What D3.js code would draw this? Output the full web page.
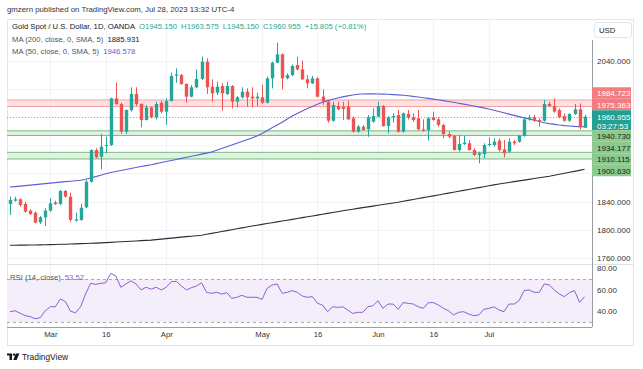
<!DOCTYPE html>
<html><head><meta charset="utf-8">
<script src="https://cdn.jsdelivr.net/npm/d3@7"></script>
<style>body{margin:0;background:#fff;}svg{display:block;font-family:"Liberation Sans",Arial,sans-serif;}</style>
</head><body><svg id="c" width="643" height="369"></svg>
<script>
const dates = ["2023-02-17","2023-02-20","2023-02-21","2023-02-22","2023-02-23","2023-02-24","2023-02-27","2023-02-28",
"2023-03-01","2023-03-02","2023-03-03","2023-03-06","2023-03-07","2023-03-08","2023-03-09","2023-03-10","2023-03-13","2023-03-14","2023-03-15","2023-03-16","2023-03-17","2023-03-20","2023-03-21","2023-03-22","2023-03-23","2023-03-24","2023-03-27","2023-03-28","2023-03-29","2023-03-30","2023-03-31",
"2023-04-03","2023-04-04","2023-04-05","2023-04-06","2023-04-10","2023-04-11","2023-04-12","2023-04-13","2023-04-14","2023-04-17","2023-04-18","2023-04-19","2023-04-20","2023-04-21","2023-04-24","2023-04-25","2023-04-26","2023-04-27","2023-04-28",
"2023-05-01","2023-05-02","2023-05-03","2023-05-04","2023-05-05","2023-05-08","2023-05-09","2023-05-10","2023-05-11","2023-05-12","2023-05-15","2023-05-16","2023-05-17","2023-05-18","2023-05-19","2023-05-22","2023-05-23","2023-05-24","2023-05-25","2023-05-26","2023-05-29","2023-05-30","2023-05-31",
"2023-06-01","2023-06-02","2023-06-05","2023-06-06","2023-06-07","2023-06-08","2023-06-09","2023-06-12","2023-06-13","2023-06-14","2023-06-15","2023-06-16","2023-06-19","2023-06-20","2023-06-21","2023-06-22","2023-06-23","2023-06-26","2023-06-27","2023-06-28","2023-06-29","2023-06-30",
"2023-07-03","2023-07-04","2023-07-05","2023-07-06","2023-07-07","2023-07-10","2023-07-11","2023-07-12","2023-07-13","2023-07-14","2023-07-17","2023-07-18","2023-07-19","2023-07-20","2023-07-21","2023-07-24","2023-07-25","2023-07-26","2023-07-27","2023-07-28"];

const opens = [1836.5,1841.2,1843.1,1836.5,1827.0,1824.1,1810.3,1817.5,1827.0,1838.8,1836.5,1855.0,1846.9,1812.7,1813.7,1831.7,1868.3,1913.4,1903.9,1919.1,1920.6,1987.1,1979.0,1939.6,1970.4,1993.3,1979.0,1956.2,1974.2,1960.0,1980.9,
1968.1,1983.3,2019.4,2020.3,2007.5,1989.5,2002.8,2014.6,2039.3,2003.7,1995.1,2004.6,1993.3,2004.6,1982.3,1988.5,1996.6,1989.5,1987.1,
1988.5,1980.9,2015.6,2037.9,2049.8,2015.6,2020.3,2034.6,2028.4,2014.2,2008.5,2015.6,1989.5,1982.3,1955.2,1976.1,1975.2,1975.2,1958.6,1939.6,1946.7,1942.9,1953.8,
1961.0,1976.1,1947.6,1960.0,1963.3,1939.6,1964.7,1960.0,1958.6,1942.9,1941.9,1960.0,1957.1,1949.1,1936.2,1933.4,1913.4,1922.0,1923.0,1913.4,1906.3,1907.7,
1920.6,1920.6,1926.7,1914.4,1911.1,1925.3,1925.3,1933.4,1957.1,1960.0,1956.2,1955.2,1979.0,1976.1,1970.4,1961.9,1955.2,1964.7,1971.4,1945.15];
const highs = [1846.9,1846.9,1844.5,1839.8,1828.9,1825.5,1819.4,1830.3,1844.5,1841.2,1856.4,1856.4,1852.6,1824.1,1836.5,1870.7,1914.4,1915.8,1936.2,1932.4,1988.0,2009.4,1980.9,1971.4,2002.8,2002.8,1979.9,1977.6,1975.2,1982.3,1983.7,
1987.1,2023.7,2029.8,2021.8,2008.5,2006.1,2028.4,2046.5,2044.0,2014.2,2010.8,2008.5,2010.8,2006.1,1990.4,2002.8,2001.3,2002.8,1995.1,
2006.1,2018.0,2039.3,2066.4,2051.2,2022.7,2035.5,2046.5,2040.8,2020.3,2018.9,2017.0,1999.9,1983.7,1982.3,1982.3,1982.3,1983.7,1961.0,1949.1,1949.1,1963.3,1972.8,
1982.3,1977.6,1961.9,1965.7,1970.4,1966.6,1970.4,1965.7,1970.4,1957.1,1960.0,1968.1,1960.0,1950.5,1939.6,1934.8,1934.8,1933.4,1927.7,1915.8,1911.1,1923.0,
1931.5,1930.1,1930.1,1927.7,1930.1,1927.7,1934.8,1960.0,1963.3,1963.3,1958.6,1984.7,1982.3,1987.1,1972.8,1965.7,1965.7,1979.0,1979.9,1963.575];
const lows = [1820.8,1839.8,1832.6,1824.1,1820.8,1808.9,1808.0,1805.1,1825.5,1835.0,1835.0,1846.0,1811.3,1811.3,1812.7,1830.3,1866.9,1901.6,1885.9,1908.7,1919.1,1977.6,1936.2,1936.2,1968.1,1976.1,1945.7,1955.5,1958.6,1957.1,1965.7,
1949.1,1982.3,2009.4,2006.1,1980.9,1988.5,2001.3,2013.2,1993.3,1982.3,1991.8,1969.5,1991.8,1972.8,1974.2,1987.1,1975.2,1974.2,1976.1,
1979.0,1979.9,2001.3,2037.0,1999.9,2014.2,2018.9,2026.5,2013.2,2001.3,2007.5,1988.5,1977.6,1952.4,1953.8,1970.4,1956.2,1956.2,1938.1,1938.1,1941.0,1932.4,1952.4,
1960.0,1946.7,1937.2,1952.4,1938.1,1938.1,1957.1,1953.8,1941.0,1939.6,1926.7,1955.2,1946.7,1930.1,1930.1,1912.5,1911.1,1920.6,1912.5,1904.9,1894.4,1901.6,
1919.1,1918.2,1911.1,1903.0,1909.6,1920.6,1923.9,1932.4,1955.2,1953.8,1946.7,1953.8,1975.2,1966.6,1958.6,1953.8,1953.8,1963.3,1942.9,1945.15];
const closes = [1842.2,1843.1,1835.0,1825.5,1822.2,1809.9,1817.5,1827.0,1837.4,1836.5,1855.0,1846.9,1813.7,1814.6,1831.2,1868.3,1913.4,1903.0,1918.2,1920.6,1987.1,1979.0,1939.6,1970.4,1993.3,1979.0,1956.2,1974.2,1960.0,1979.0,1968.1,
1983.3,2018.9,2021.3,2007.5,1989.5,2002.8,2014.6,2039.3,2002.8,1994.2,2003.7,1994.2,2004.6,1982.3,1988.5,1996.6,1988.5,1987.1,1989.5,
1980.9,2015.6,2037.9,2049.8,2015.6,2020.3,2033.2,2028.4,2014.2,2008.5,2015.6,1989.5,1982.3,1955.2,1977.6,1971.4,1972.0,1957.1,1939.6,1946.7,1941.9,1960.0,1961.9,
1976.1,1947.6,1960.0,1961.9,1939.6,1965.7,1960.0,1956.2,1942.9,1941.0,1958.6,1956.2,1949.1,1936.2,1932.4,1913.4,1922.0,1923.9,1913.4,1906.3,1908.7,1920.6,
1922.0,1925.3,1913.4,1908.7,1925.3,1923.0,1933.4,1957.1,1960.0,1955.2,1955.2,1979.0,1976.1,1968.1,1960.0,1955.2,1964.7,1971.4,1945.7,1960.955];

const ma200 = [1777.6,1777.7,1777.8,1777.9,1778.0,1778.1,1778.2,1778.3,1778.5,
1778.7,1779.0,1779.2,1779.5,1779.7,1780.0,1780.2,1780.5,1780.7,1781.0,
1781.4,1781.8,1782.2,1782.6,1783.0,1783.4,1783.8,1784.2,1784.6,1785.0,
1785.7,1786.4,1787.1,1787.8,1788.5,1789.2,1789.9,1790.6,1791.3,1792.0,
1793.3,1794.6,1795.9,1797.2,1798.5,1799.8,1801.1,1802.4,1803.7,1805.0,
1806.2,1807.4,1808.6,1809.8,1811.0,1812.2,1813.4,1814.6,1815.8,1817.0,
1818.2,1819.4,1820.6,1821.9,1823.1,1824.3,1825.5,1826.8,1828.0,
1829.1,1830.2,1831.3,1832.4,1833.5,1834.6,1835.7,1836.8,1837.9,1839.0,
1840.3,1841.6,1842.9,1844.2,1845.5,1846.8,1848.1,1849.4,1850.7,1852.0,
1853.3,1854.6,1855.9,1857.2,1858.5,1859.8,1861.1,1862.4,1863.7,1865.0,
1866.1,1867.2,1868.3,1869.4,1870.5,1871.6,1872.7,1873.8,1874.9,1876.0,
1877.4,1878.8,1880.2,1881.6,1883.0,1884.4,1885.931];

const ma50 = [1860.7,1861.3,1862.0,1862.7,1863.4,1864.1,1864.8,1865.5,1866.2,1866.9,1867.6,1868.3,1869.0,1869.7,1870.4,
1871.8,1873.6,1875.5,1877.5,1879.5,1881.3,
1882.8,1884.2,1885.6,1887.0,1888.4,1889.8,1891.2,1892.5,
1894.0,1895.5,1897.0,1898.5,1900.0,1901.5,1903.0,1904.5,1906.0,1907.5,1909.0,1910.6,
1913.0,1915.5,1918.0,1920.5,1923.0,1925.5,1928.0,1930.5,1933.5,1937.0,
1941.0,1945.0,1949.0,1953.0,1957.5,1962.0,
1965.5,1969.0,1972.5,1975.5,1978.5,1981.5,
1983.8,1985.8,1987.6,1989.2,1990.6,1991.8,1992.8,
1993.2,1993.4,1993.4,1993.3,1993.1,1992.8,1992.4,1992.0,1991.4,1990.8,
1989.9,1989.0,1988.0,1987.0,1986.0,1985.0,
1983.8,1982.6,1981.4,1980.1,1978.8,1977.5,1976.2,1974.9,1973.5,
1971.8,1970.0,1968.2,1966.4,1964.6,1962.8,1961.0,1959.2,
1957.5,1955.8,1954.0,1952.2,
1951.0,1950.0,1949.0,1948.2,1947.6,1947.1,1946.8,1946.578];

const rsi = [39.5,40.5,38.2,36.0,35.0,33.0,34.0,40.5,44.2,44.2,51.4,49.0,40.0,38.6,44.2,56.0,66.0,65.0,66.0,66.5,75.3,72.8,62.3,65.4,68.4,65.4,59.8,62.3,60.5,62.3,59.8,
62.3,67.5,67.8,63.5,59.8,62.0,63.5,66.5,57.6,56.7,57.6,56.0,57.3,52.0,53.0,54.8,53.0,53.0,53.0,
51.0,61.3,64.4,65.4,56.7,57.6,59.2,57.6,54.2,53.0,53.6,47.4,45.8,39.6,44.2,43.6,44.2,41.2,38.0,39.0,39.0,44.2,45.1,
49.8,42.7,46.7,46.7,41.8,48.0,47.4,46.7,44.2,42.7,48.0,48.0,45.8,42.7,40.5,36.5,39.0,39.6,37.4,35.9,36.5,41.8,
42.7,44.2,41.2,39.6,46.7,46.7,49.8,59.2,59.8,57.6,57.6,65.4,64.4,59.8,56.0,53.6,57.3,59.2,48.3,53.52];

const priceTicks = [1760,1800,1840,1880,1920,1960,2000,2040];
const rsiTicks = [40,60,80];
const dateTicks = ["2023-03-01","2023-03-16","2023-04-03","2023-05-01","2023-05-16","2023-06-01","2023-06-16","2023-07-03"];
const dateTickLabels = ["Mar","16","Apr","May","16","Jun","16","Jul"];
const redZone = [1975.363, 1984.723];
const greenZones = [[1934.177, 1940.730], [1900.630, 1910.115]];
const greenLevels = [1940.730, 1934.177, 1910.115, 1900.630];
const lastPrice = 1960.955;
const countdown = "03:27:53";
const titleParts = ["Gold Spot / U.S. Dollar, 1D, OANDA", "O1945.150", "H1963.575", "L1945.150", "C1960.955", "+15.805 (+0.81%)"];
const maLabels = [["MA (200, close, 0, SMA, 5)", "1885.931"], ["MA (50, close, 0, SMA, 5)", "1946.578"]];

// ---------- drawing ----------
(function draw() {
const svg = d3.select("#c");
const L = 7, R = 592, T = 19, MB = 264, RB = 327, FR = 633, FB = 345;
const UP = "#26a69a", DN = "#ef5350", MA50C = "#5b5fd8", RSIC = "#8e5fcf";

const x = d3.scalePoint().domain(dates).range([10, 584.6]);
const y = d3.scaleLinear().domain([1760, 2040]).range([257.65, 61.2]);
const yr = d3.scaleLinear().domain([30, 70]).range([322, 279]);
const px = d => Math.round(x(d)) + 0.5;

// stacked price-label layout (computed first so covered axis ticks can be skipped)
const lh = 11.5;
const tealTop = y(lastPrice) - 6.4, tealBot = tealTop + 20;
let stackTop = tealTop;
const above = redZone.slice().sort((a, b) => a - b).map(v => { const c = Math.min(y(v), stackTop - lh / 2); stackTop = c - lh / 2; return { v, c }; });
let stackBot = tealBot;
const below = greenLevels.slice().sort((a, b) => b - a).map(v => { const c = Math.max(y(v), stackBot + lh / 2); stackBot = c + lh / 2; return { v, c }; });
const boxTop = stackTop, boxBot = stackBot;
const visibleTicks = priceTicks.filter(t => y(t) < boxTop - 5 || y(t) > boxBot + 5);

const defs = svg.append("defs");
defs.append("clipPath").attr("id", "cm").append("rect").attr("x", L).attr("y", T).attr("width", R - L).attr("height", MB - T);
defs.append("clipPath").attr("id", "cr").append("rect").attr("x", L).attr("y", MB).attr("width", R - L).attr("height", RB - MB);
defs.append("clipPath").attr("id", "cra").append("rect").attr("x", R).attr("y", MB + 2).attr("width", FR - R).attr("height", RB - MB - 2);

svg.append("text").attr("x", 7).attr("y", 12).attr("font-size", 7.8).attr("fill", "#333")
  .text("gmzern published on TradingView.com, Jul 28, 2023 13:32 UTC-4");

svg.append("rect").attr("x", L + 0.5).attr("y", T + 0.5).attr("width", FR - L).attr("height", FB - T)
  .attr("fill", "none").attr("stroke", "#e3e5ea");

const grid = svg.append("g").attr("stroke", "#f0f2f6").attr("stroke-width", 1);
grid.selectAll("line.v").data(dateTicks).join("line").attr("class", "v")
  .attr("x1", d => px(d)).attr("x2", d => px(d)).attr("y1", T).attr("y2", RB);
grid.selectAll("line.h").data(priceTicks).join("line").attr("class", "h")
  .attr("x1", L).attr("x2", R).attr("y1", d => Math.round(y(d)) + 0.5).attr("y2", d => Math.round(y(d)) + 0.5);

const main = svg.append("g").attr("clip-path", "url(#cm)");
main.append("rect").attr("x", L).attr("width", R - L)
  .attr("y", y(redZone[1])).attr("height", y(redZone[0]) - y(redZone[1])).attr("fill", "#fde1e2");
redZone.forEach(v => main.append("line").attr("x1", L).attr("x2", R).attr("y1", y(v)).attr("y2", y(v)).attr("stroke", "#f4a0a3").attr("stroke-width", 1));
greenZones.forEach(z => {
  main.append("rect").attr("x", L).attr("width", R - L).attr("y", y(z[1])).attr("height", y(z[0]) - y(z[1])).attr("fill", "#e0f2e1");
  z.forEach(v => main.append("line").attr("x1", L).attr("x2", R).attr("y1", y(v)).attr("y2", y(v)).attr("stroke", "#79b97c").attr("stroke-width", 1));
});
main.append("line").attr("x1", L).attr("x2", R).attr("y1", Math.round(y(lastPrice)) + 0.5).attr("y2", Math.round(y(lastPrice)) + 0.5)
  .attr("stroke", "#a3a6af").attr("stroke-dasharray", "1,2");

const lineFn = arr => d3.line().x((d, i) => x(dates[i])).y(d => y(d))(arr);
main.append("path").attr("d", lineFn(ma200)).attr("fill", "none").attr("stroke", "#2a2e39").attr("stroke-width", 1.1);
main.append("path").attr("d", lineFn(ma50)).attr("fill", "none").attr("stroke", MA50C).attr("stroke-width", 1.1);

const bw = 3.4;
const cg = main.append("g");
dates.forEach((d, i) => {
  const up = closes[i] >= opens[i];
  const col = up ? UP : DN;
  cg.append("line").attr("x1", px(d)).attr("x2", px(d)).attr("y1", y(highs[i])).attr("y2", y(lows[i])).attr("stroke", col).attr("stroke-width", 1);
  const t = y(Math.max(opens[i], closes[i])), b = y(Math.min(opens[i], closes[i]));
  cg.append("rect").attr("x", px(d) - bw / 2).attr("width", bw).attr("y", t).attr("height", Math.max(1, b - t)).attr("fill", col);
});

const t1 = svg.append("text").attr("x", 12).attr("y", 29.3).attr("font-size", 7.7);
titleParts.forEach((s, i) => t1.append("tspan").attr("dx", i ? 4 : 0).attr("fill", i ? "#26a69a" : "#131722").text(s));
maLabels.forEach((m, i) => {
  const t = svg.append("text").attr("x", 12).attr("y", 42 + i * 12.4).attr("font-size", 7.7);
  t.append("tspan").attr("fill", "#555").text(m[0]);
  t.append("tspan").attr("dx", 4).attr("fill", i ? MA50C : "#131722").text(m[1]);
});

const rp = svg.append("g").attr("clip-path", "url(#cr)");
rp.append("rect").attr("x", L).attr("width", R - L).attr("y", yr(70)).attr("height", yr(30) - yr(70)).attr("fill", "#f3eefa");
[70, 30].forEach(v => rp.append("line").attr("x1", L).attr("x2", R).attr("y1", Math.round(yr(v)) + 0.5).attr("y2", Math.round(yr(v)) + 0.5)
  .attr("stroke", "#a9a9b3").attr("stroke-dasharray", "3,3"));
rp.append("path").attr("d", d3.line().x((d, i) => x(dates[i])).y(d => yr(d))(rsi)).attr("fill", "none").attr("stroke", RSIC).attr("stroke-width", 1);
const rl = svg.append("text").attr("x", 10).attr("y", 279.5).attr("font-size", 7.7);
rl.append("tspan").attr("fill", "#555").text("RSI (14, close)");
rl.append("tspan").attr("dx", 4).attr("fill", RSIC).text(rsi[rsi.length - 1].toFixed(2));

svg.append("line").attr("x1", L).attr("x2", FR).attr("y1", MB + 0.5).attr("y2", MB + 0.5).attr("stroke", "#dfe1e6");
svg.append("line").attr("x1", L).attr("x2", R).attr("y1", RB + 0.5).attr("y2", RB + 0.5).attr("stroke", "#9a9ca5");
svg.append("line").attr("x1", R + 0.5).attr("x2", R + 0.5).attr("y1", 40).attr("y2", RB).attr("stroke", "#9a9ca5");

const pa = svg.append("g").attr("transform", `translate(${R + 3},0)`)
  .call(d3.axisRight(y).tickValues(visibleTicks).tickFormat(d3.format(".3f")).tickSize(0).tickPadding(2));
pa.select(".domain").remove();
pa.selectAll("text").attr("font-size", 8).attr("fill", "#333").attr("font-family", "Liberation Sans, Arial, sans-serif");

const ra = svg.append("g").attr("clip-path", "url(#cra)").append("g").attr("transform", `translate(${R + 3},0)`)
  .call(d3.axisRight(yr).tickValues(rsiTicks).tickFormat(d3.format(".2f")).tickSize(0).tickPadding(2));
ra.select(".domain").remove();
ra.selectAll("text").attr("font-size", 8).attr("fill", "#333").attr("font-family", "Liberation Sans, Arial, sans-serif");

const da = svg.append("g").attr("transform", `translate(0,${RB})`)
  .call(d3.axisBottom(x).tickValues(dateTicks).tickFormat((d, i) => dateTickLabels[i]).tickSize(0).tickPadding(5));
da.select(".domain").remove();
da.selectAll("text").attr("font-size", 7.7).attr("fill", "#333").attr("font-family", "Liberation Sans, Arial, sans-serif");

const bx = R, bwid = 39;
const lab = svg.append("g").attr("font-size", 8);
above.forEach(o => {
  lab.append("rect").attr("x", bx).attr("y", o.c - lh / 2).attr("width", bwid).attr("height", lh).attr("fill", "#f47c80");
  lab.append("text").attr("x", R + 5).attr("y", o.c + 3).attr("fill", "#fff").text(o.v.toFixed(3));
});
lab.append("rect").attr("x", bx).attr("y", tealTop).attr("width", bwid).attr("height", tealBot - tealTop).attr("fill", "#22a093");
lab.append("text").attr("x", R + 5).attr("y", y(lastPrice) + 3).attr("fill", "#fff").text(lastPrice.toFixed(3));
lab.append("text").attr("x", R + 5).attr("y", y(lastPrice) + 12).attr("fill", "#fff").text(countdown);
below.forEach(o => {
  lab.append("rect").attr("x", bx).attr("y", o.c - lh / 2).attr("width", bwid).attr("height", lh).attr("fill", "#8cca8e");
  lab.append("text").attr("x", R + 5).attr("y", o.c + 3).attr("fill", "#1a1d24").text(o.v.toFixed(3));
});

svg.append("rect").attr("x", 594.5).attr("y", 22.5).attr("width", 37).attr("height", 15).attr("rx", 3)
  .attr("fill", "#fff").attr("stroke", "#e0e3eb");
svg.append("text").attr("x", 599).attr("y", 32.6).attr("font-size", 7.7).attr("fill", "#131722").text("USD");

const lg = svg.append("g").attr("fill", "#131722");
lg.append("path").attr("d", "M7 353.5 H12 V360 H9.5 V355.5 H7 Z");
lg.append("circle").attr("cx", 14).attr("cy", 354.6).attr("r", 1.2);
lg.append("path").attr("d", "M15.8 353.5 H19.5 L16.6 360 H13.3 Z");
svg.append("text").attr("x", 22).attr("y", 360).attr("font-size", 8.4).attr("fill", "#131722").text("TradingView");
})();
</script></body></html>
